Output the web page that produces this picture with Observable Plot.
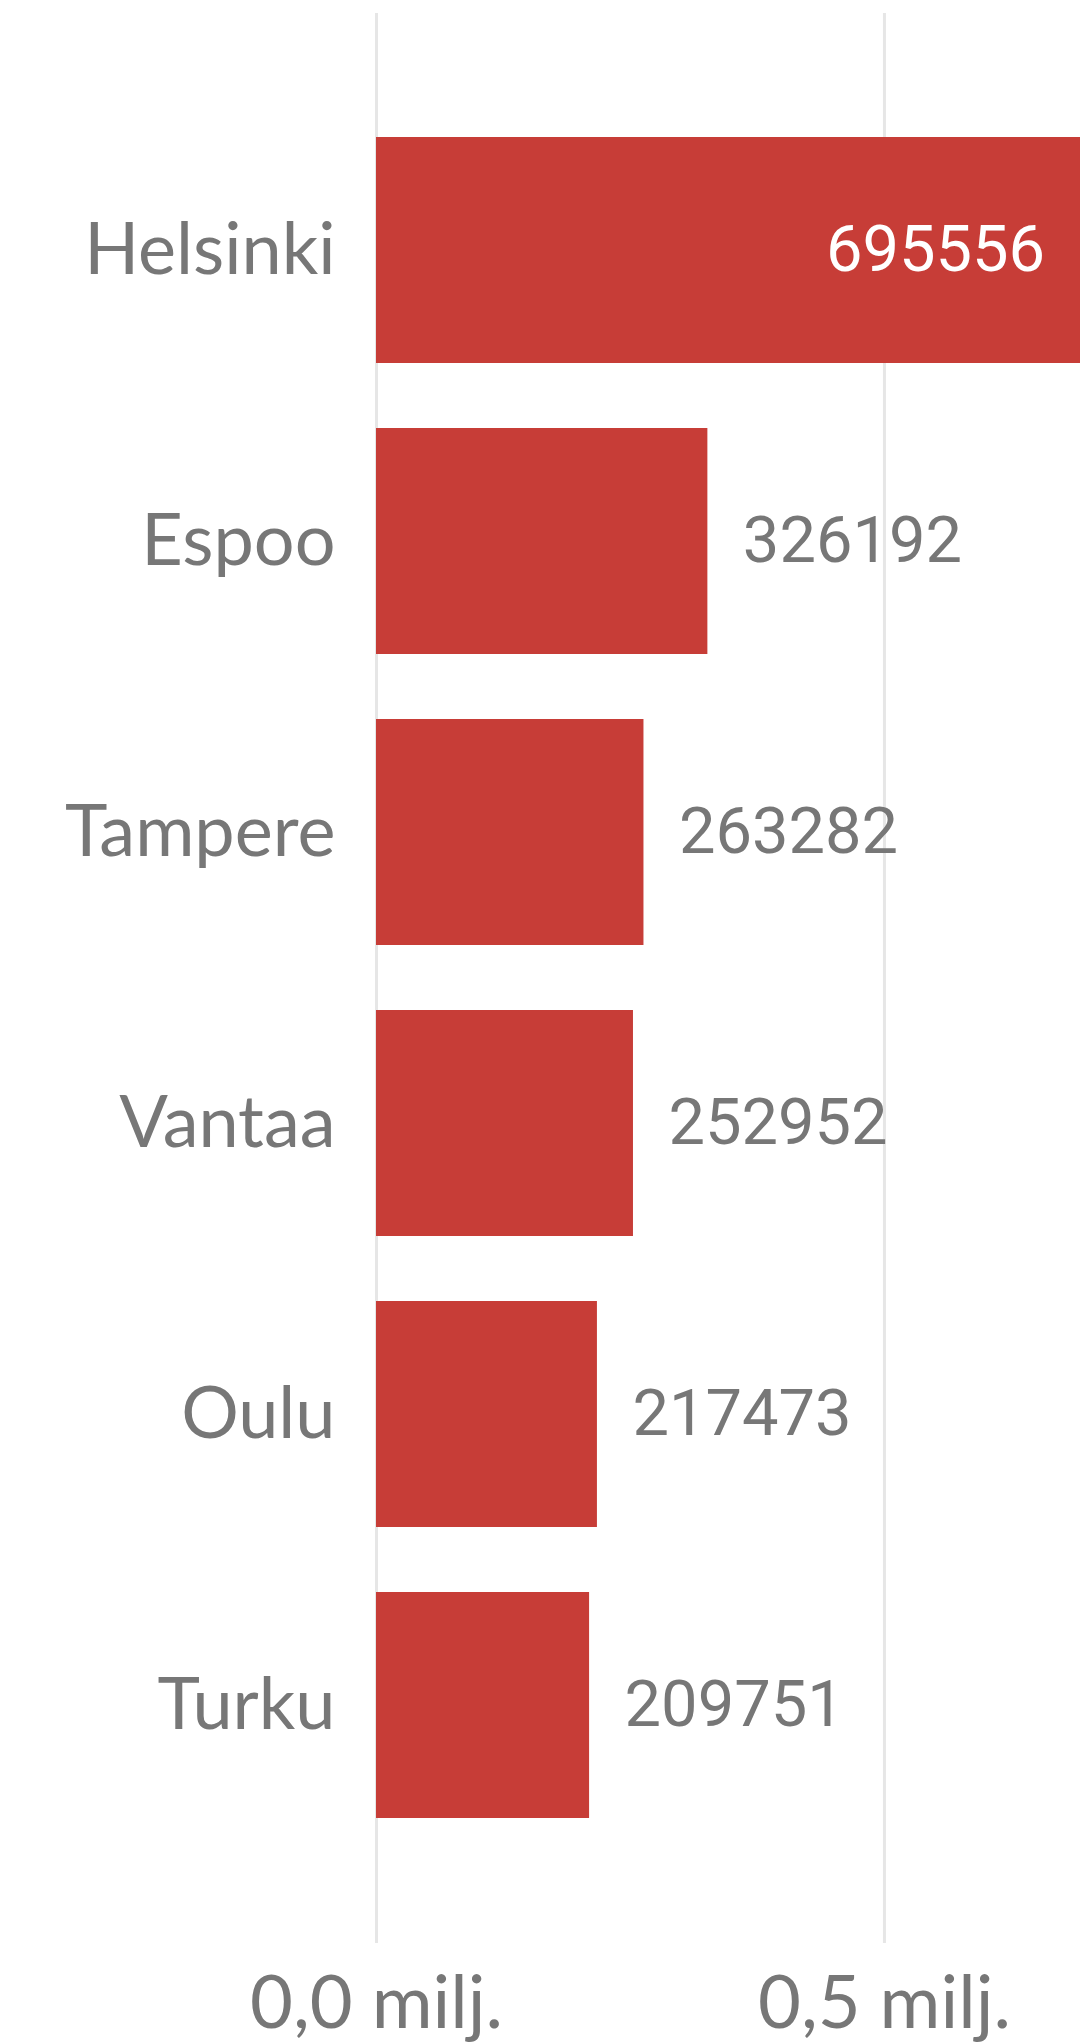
<!DOCTYPE html>
<html>
<head>
<meta charset="utf-8">
<script src="https://cdn.jsdelivr.net/npm/d3@7"></script>
<script src="https://cdn.jsdelivr.net/npm/@observablehq/plot@0.6"></script>
<style>
  html, body { margin: 0; padding: 0; background: #fff; }
  #chart svg { display: block; }
</style>
</head>
<body>
<div id="chart"></div>
<script>
const cities = ["Helsinki", "Espoo", "Tampere", "Vantaa", "Oulu", "Turku"];
const populations = [695556, 326192, 263282, 252952, 217473, 209751];
const xTicks = [0, 500000];
const xMax = 693000;

const data = cities.map((c, i) => ({ city: c, value: populations[i] }));
const inside = d => d.value > xMax * 0.8;

const chart = Plot.plot({
  width: 1080,
  height: 2044,
  marginLeft: 376,
  marginRight: 0,
  marginTop: 13,
  marginBottom: 101,
  style: { fontFamily: "Lato, 'Open Sans', sans-serif", color: "#777", background: "#fff", overflow: "hidden" },
  x: { domain: [0, xMax], ticks: xTicks },
  y: { domain: cities, paddingInner: 0.222, paddingOuter: 0.42 },
  marks: [
    Plot.gridX(xTicks, { stroke: "#e6e6e6", strokeOpacity: 1, strokeWidth: 3 }),
    Plot.barX(data, { x: "value", y: "city", fill: "#c73d37" }),
    Plot.text(data.filter(inside), {
      x: "value", y: "city", text: d => String(d.value),
      textAnchor: "end", dx: -38, fill: "#fff",
      fontSize: 65, fontFamily: "Roboto", letterSpacing: 2.5
    }),
    Plot.text(data.filter(d => !inside(d)), {
      x: "value", y: "city", text: d => String(d.value),
      textAnchor: "start", dx: 35, fill: "#777",
      fontSize: 65, fontFamily: "Roboto", letterSpacing: 2.5
    }),
    Plot.axisY({ tickSize: 0, tickPadding: 41, fontSize: 72, label: null }),
    Plot.axisX(xTicks, {
      tickSize: 0, tickPadding: 32, fontSize: 74, label: null,
      tickFormat: d => (d / 1e6).toFixed(1).replace(".", ",") + " milj."
    })
  ]
});
document.getElementById("chart").appendChild(chart);
</script>
</body>
</html>
